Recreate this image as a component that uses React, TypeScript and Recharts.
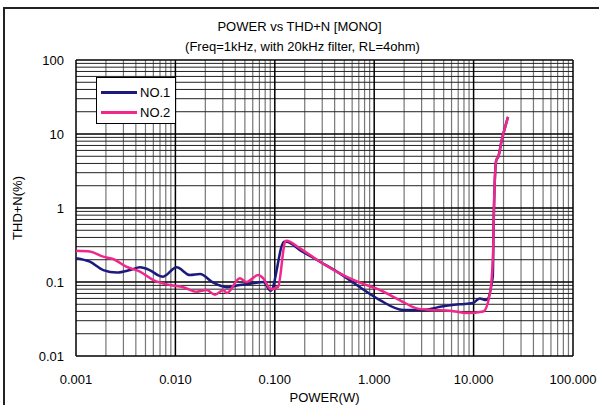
import React from 'react'
import { LineChart, Line, XAxis, YAxis, ReferenceLine } from 'recharts'

// power (W) vs THD+N (%)
const no1Power = [0.001, 0.00138, 0.00188, 0.00257, 0.0035, 0.0044, 0.0055, 0.007, 0.0075, 0.0103, 0.014, 0.0177, 0.024, 0.033, 0.0445, 0.06, 0.0766, 0.091, 0.124, 0.131, 0.179, 0.285, 0.45, 0.72, 1.14, 1.95, 3.1, 4.95, 7.3, 9.9, 11.5, 13.4, 15.6, 15.9, 16.9, 17.7, 19.2, 20.8, 22.2]
const no1Thd = [0.21, 0.188, 0.145, 0.134, 0.145, 0.158, 0.145, 0.12, 0.118, 0.158, 0.124, 0.128, 0.098, 0.085, 0.091, 0.096, 0.1, 0.076, 0.35, 0.35, 0.27, 0.188, 0.131, 0.085, 0.057, 0.042, 0.042, 0.047, 0.05, 0.052, 0.06, 0.057, 0.118, 0.6, 4.4, 4.9, 8.3, 12.5, 17]

const no2Power = [0.001, 0.00138, 0.00188, 0.0024, 0.0032, 0.0044, 0.006, 0.0088, 0.012, 0.0164, 0.0206, 0.025, 0.0303, 0.033, 0.0445, 0.052, 0.068, 0.0766, 0.091, 0.108, 0.127, 0.131, 0.179, 0.285, 0.45, 0.72, 1.14, 1.8, 2.68, 3.6, 5.8, 8.5, 12.5, 14.6, 15.7, 15.95, 16.9, 17.7, 19.2, 20.8, 22.2]
const no2Thd = [0.265, 0.258, 0.22, 0.203, 0.161, 0.138, 0.106, 0.091, 0.085, 0.074, 0.078, 0.067, 0.078, 0.071, 0.112, 0.1, 0.124, 0.112, 0.08, 0.086, 0.35, 0.36, 0.285, 0.188, 0.131, 0.098, 0.078, 0.057, 0.044, 0.042, 0.041, 0.038, 0.04, 0.07, 0.244, 0.76, 4.45, 4.9, 8.3, 12.5, 17]

const xTicks = [0.001, 0.01, 0.1, 1, 10, 100]
const xTickLabels = ['0.001', '0.010', '0.100', '1.000', '10.000', '100.000']
const yTicks = [0.01, 0.1, 1, 10, 100]
const yTickLabels = ['0.01', '0.1', '1', '10', '100']
const minorSteps = [2, 3, 4, 5, 6, 7, 8, 9]

const no1 = no1Power.map((x, i) => ({ x, y: no1Thd[i] }))
const no2 = no2Power.map((x, i) => ({ x, y: no2Thd[i] }))

const xMinor = xTicks.slice(0, -1).flatMap(d => minorSteps.map(m => +(d * m).toPrecision(3)))
const yMinor = yTicks.slice(0, -1).flatMap(d => minorSteps.map(m => +(d * m).toPrecision(3)))

const FONT = '"Liberation Sans", Arial, sans-serif'

function LegendBox() {
  const items = [
    { name: 'NO.1', color: '#1c1a7c' },
    { name: 'NO.2', color: '#f0288c' },
  ]
  return (
    <div style={{ position: 'absolute', left: 96, top: 77, width: 80, height: 47, border: '1px solid #000', background: '#fff', fontFamily: FONT, fontSize: 13, boxSizing: 'border-box', paddingTop: 4 }}>
      {items.map(it => (
        <div key={it.name} style={{ display: 'flex', alignItems: 'center', height: 20 }}>
          <span style={{ display: 'inline-block', width: 36, height: 3, background: it.color, marginLeft: 4, marginRight: 3 }} />
          <span>{it.name}</span>
        </div>
      ))}
    </div>
  )
}

export default function App() {
  return (
    <div style={{ position: 'absolute', left: 0, top: 0, width: 599, height: 405, background: '#fff', fontFamily: FONT, overflow: 'hidden' }}>
      {/* outer frame: only top and left edges are visible */}
      <div style={{ position: 'absolute', left: 3, top: 7, width: 596, height: 2, background: '#222' }} />
      <div style={{ position: 'absolute', left: 3, top: 7, width: 2, height: 398, background: '#222' }} />
      <div style={{ position: 'absolute', top: 19, width: 599, textAlign: 'center', fontSize: 13 }}>POWER vs THD+N [MONO]</div>
      <div style={{ position: 'absolute', top: 39, left: 3, width: 599, textAlign: 'center', fontSize: 13 }}>(Freq=1kHz, with 20kHz filter, RL=4ohm)</div>
      <div style={{ position: 'absolute', left: 0, top: 0 }}>
        <LineChart width={599} height={405} margin={{ top: 60, right: 26, bottom: 0, left: 0 }}>
          <XAxis
            dataKey="x"
            type="number"
            scale="log"
            domain={[0.001, 100]}
            ticks={xTicks}
            tickFormatter={(v) => xTickLabels[xTicks.indexOf(v)] ?? String(v)}
            allowDataOverflow
            height={49}
            tickSize={0}
            tickMargin={19}
            axisLine={false}
            tick={{ fill: '#000', fontSize: 13, fontFamily: FONT }}
            label={{ value: 'POWER(W)', position: 'insideBottom', offset: 3, fill: '#000', fontSize: 13, fontFamily: FONT }}
          />
          <YAxis
            dataKey="y"
            type="number"
            scale="log"
            domain={[0.01, 100]}
            ticks={yTicks}
            tickFormatter={(v) => yTickLabels[yTicks.indexOf(v)] ?? String(v)}
            allowDataOverflow
            width={76}
            tickSize={0}
            tickMargin={12}
            axisLine={false}
            tick={{ fill: '#000', fontSize: 13, fontFamily: FONT }}
            label={{ value: 'THD+N(%)', angle: -90, position: 'insideLeft', offset: 17, fill: '#000', fontSize: 13, fontFamily: FONT, style: { textAnchor: 'middle' } }}
          />
          {xMinor.map(v => <ReferenceLine key={`xm${v}`} x={v} stroke="#777" strokeWidth={1.2} />)}
          {yMinor.map(v => <ReferenceLine key={`ym${v}`} y={v} stroke="#222" strokeWidth={1} />)}
          {xTicks.map(v => <ReferenceLine key={`xM${v}`} x={v} stroke="#000" strokeWidth={1.5} />)}
          {yTicks.map(v => <ReferenceLine key={`yM${v}`} y={v} stroke="#000" strokeWidth={1.5} />)}
          <Line data={no1} dataKey="y" name="NO.1" stroke="#1c1a7c" strokeWidth={2.5} dot={false} isAnimationActive={false} type="monotone" />
          <Line data={no2} dataKey="y" name="NO.2" stroke="#f0288c" strokeWidth={2.5} dot={false} isAnimationActive={false} type="monotone" />
        </LineChart>
      </div>
      <LegendBox />
    </div>
  )
}
